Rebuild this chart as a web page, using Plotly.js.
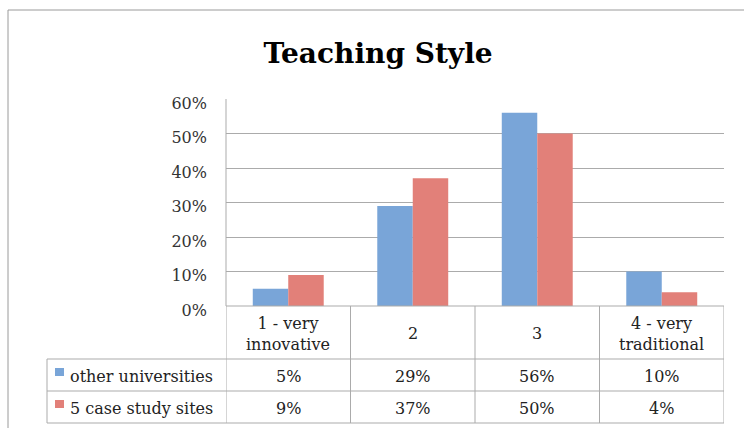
<!DOCTYPE html>
<html>
<head>
<meta charset="utf-8">
<script src="https://cdn.plot.ly/plotly-3.0.1.min.js"></script>
<style>html,body{margin:0;padding:0;background:#fff;}#chart{width:744px;height:428px;}</style>
</head>
<body>
<div id="chart"></div>
<script>
// ---- data ----
const categories = ["1 - very<br>innovative", "2", "3", "4 - very<br>traditional"];
const seriesNames = ["other universities", "5 case study sites"];
const otherUniversities = [0.05, 0.29, 0.56, 0.10];
const caseStudySites = [0.09, 0.37, 0.50, 0.04];
const yTickVals = [0, 0.1, 0.2, 0.3, 0.4, 0.5, 0.6];
const yTickText = ["0%", "10%", "20%", "30%", "40%", "50%", "60%"];

// ---- layout geometry (pixels) ----
const W = 744, H = 428;
const plotL = 226, plotR = 724, plotT = 99, plotB = 306;
const tableLeft = 47;
const rowLines = [306, 359, 391, 423];
const colors = ["#79a5d8", "#e28079"];
const lineColor = "#ababab";
const fam = "DejaVu Serif";
const fsize = 16;

const pw = plotR - plotL, ph = plotB - plotT;
const px2x = p => (p - plotL) / pw;
const py2y = p => (plotB - p) / ph;

const n = categories.length;
const traces = [
  {type: "bar", x: [0,1,2,3], y: otherUniversities, name: seriesNames[0], marker: {color: colors[0]}, hoverinfo: "y"},
  {type: "bar", x: [0,1,2,3], y: caseStudySites, name: seriesNames[1], marker: {color: colors[1]}, hoverinfo: "y"}
];

const shapes = [];
const annotations = [];
const line = (x0, y0, x1, y1, xref) => shapes.push({type: "line", xref: xref || "paper", yref: "paper", x0, y0, x1, y1, line: {color: lineColor, width: 1}});

// outer frame
shapes.push({type: "rect", xref: "paper", yref: "paper", x0: px2x(8), x1: px2x(760), y0: py2y(440), y1: py2y(10), line: {color: "#9a9a9a", width: 1}});
// plot left axis
line(0, 0, 0, 1);
// table horizontal lines
line(0, py2y(rowLines[0]), 1, py2y(rowLines[0]));
for (let r = 1; r < rowLines.length; r++) line(px2x(tableLeft), py2y(rowLines[r]), 1, py2y(rowLines[r]));
// table vertical lines at category boundaries
for (let k = 0; k <= n; k++) line(k - 0.5, py2y(rowLines[0]), k - 0.5, py2y(rowLines[3]), "x");
line(px2x(tableLeft), py2y(rowLines[1]), px2x(tableLeft), py2y(rowLines[3]));

const tfont = () => ({family: fam, size: fsize, color: "#222"});
// header text
categories.forEach((c, i) => annotations.push({xref: "x", yref: "paper", x: i, y: py2y((rowLines[0] + rowLines[1]) / 2 + 1), text: c, showarrow: false, font: tfont(), xanchor: "center", yanchor: "middle"}));
// value rows
[otherUniversities, caseStudySites].forEach((vals, s) => {
  const mid = (rowLines[s + 1] + rowLines[s + 2]) / 2;
  const yc = py2y(mid + 1);
  vals.forEach((v, i) => annotations.push({xref: "x", yref: "paper", x: i, y: yc, text: Math.round(v * 100) + "%", showarrow: false, font: tfont(), xanchor: "center", yanchor: "middle"}));
  annotations.push({xref: "paper", yref: "paper", x: px2x(tableLeft + 21), y: yc, text: seriesNames[s], showarrow: false, font: tfont(), xanchor: "left", yanchor: "middle"});
  shapes.push({type: "rect", xref: "paper", yref: "paper", x0: px2x(tableLeft + 8), x1: px2x(tableLeft + 17), y0: py2y(mid + 1), y1: py2y(mid - 7), line: {width: 0}, fillcolor: colors[s]});
});

const layout = {
  width: W, height: H,
  margin: {l: plotL, r: W - plotR, t: plotT, b: H - plotB, pad: 0},
  paper_bgcolor: "#fff", plot_bgcolor: "#fff",
  title: {text: "<b>Teaching Style</b>", x: 378 / W, xanchor: "center", y: 1 - 53 / H, yanchor: "middle", font: {family: fam, size: 28, color: "#000"}},
  showlegend: false,
  barmode: "group", bargap: 0.43, bargroupgap: 0,
  xaxis: {range: [-0.5, n - 0.5], showticklabels: false, showgrid: false, zeroline: false, showline: false, ticks: "", fixedrange: true},
  yaxis: {range: [0, 0.6], tickvals: yTickVals, ticktext: yTickText, showgrid: true, gridcolor: lineColor, gridwidth: 1, zeroline: false, showline: false, ticks: "", ticklabelstandoff: 18, ticklabelshift: 4, tickfont: {family: fam, size: fsize, color: "#333"}, fixedrange: true},
  shapes, annotations
};

Plotly.newPlot("chart", traces, layout, {displayModeBar: false, staticPlot: true});
</script>
</body>
</html>
